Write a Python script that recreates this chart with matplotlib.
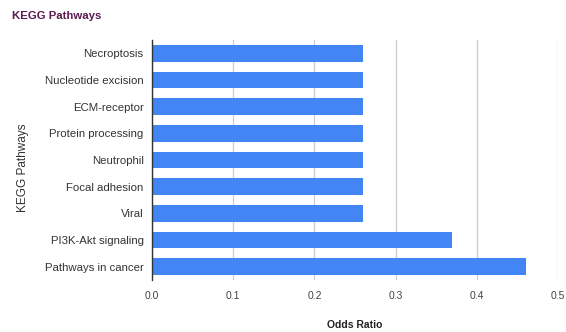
import matplotlib.pyplot as plt

# Odds ratios per KEGG pathway (top to bottom)
pathways = ['Necroptosis', 'Nucleotide excision', 'ECM-receptor', 'Protein processing',
            'Neutrophil', 'Focal adhesion', 'Viral', 'PI3K-Akt signaling', 'Pathways in cancer']
odds_ratio = [0.26, 0.26, 0.26, 0.26, 0.26, 0.26, 0.26, 0.37, 0.46]
x_ticks = [0.0, 0.1, 0.2, 0.3, 0.4, 0.5]

plt.rcParams['font.family'] = ['Liberation Sans', 'DejaVu Sans']

fig = plt.figure(figsize=(5.66, 3.32), dpi=100)
ax = fig.add_axes([0.2686, 0.1566, 0.7173, 0.723])

y = list(range(len(pathways)))
ax.barh(y, odds_ratio, height=0.63, color='#4285F4', zorder=3)

ax.set_xlim(0, 0.5)
ax.set_ylim(len(pathways) - 0.5, -0.5)
ax.set_yticks(y)
ax.set_yticklabels(pathways, fontsize=8.2, color='#333333')
ax.set_xticks(x_ticks)
ax.set_xticklabels([f'{t:.1f}' for t in x_ticks], fontsize=7.5, color='#444444')
ax.tick_params(axis='both', length=0)
ax.tick_params(axis='y', pad=6)
ax.tick_params(axis='x', pad=8)

ax.grid(axis='x', color='#cccccc', linewidth=0.9, zorder=0)
for side in ['top', 'right', 'bottom']:
    ax.spines[side].set_visible(False)
ax.spines['left'].set_color('#333333')
ax.spines['left'].set_linewidth(1.0)
ax.spines['left'].set_zorder(4)

fig.text(0.627, 0.02, 'Odds Ratio', fontsize=7.5, fontweight='bold', color='#222222',
         ha='center', va='center')
fig.text(0.04, 0.494, 'KEGG Pathways', rotation=90, fontsize=8.5, color='#333333',
         ha='center', va='center')
fig.text(0.021, 0.952, 'KEGG Pathways', fontsize=8.2, fontweight='bold', color='#5b1a4f',
         ha='left', va='center')

fig.savefig('out.png', dpi=100)
